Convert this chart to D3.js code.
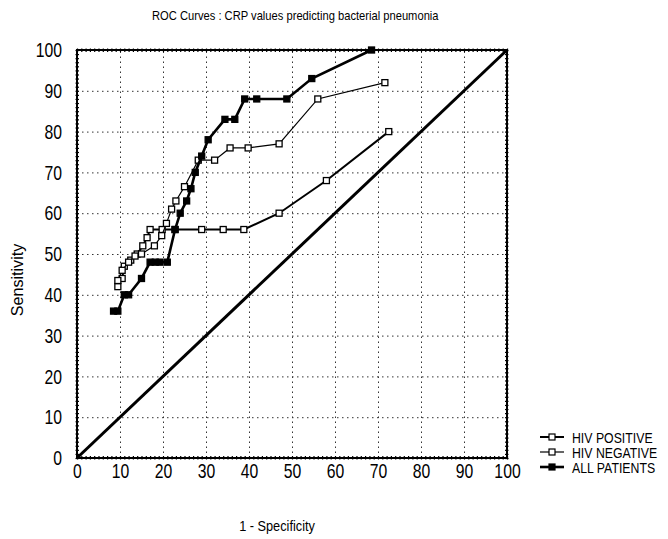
<!DOCTYPE html>
<html>
<head>
<meta charset="utf-8">
<script src="https://cdn.jsdelivr.net/npm/d3@7"></script>
<style>
  body { margin: 0; background: #fff; }
  svg { font-family: "Liberation Sans", Arial, sans-serif; }
  .grid line { stroke: #333; stroke-width: 1; stroke-dasharray: 1.5 3.5; }
  .grid .domain { display: none; }
  .minor .domain { display: none; }
  .minor line { stroke: #000; stroke-width: 1.2; }
  .lab .domain, .lab line { display: none; }
  .lab text { font-size: 21px; fill: #000; }
</style>
</head>
<body>
<svg id="chart"></svg>
<script>
// ROC curves, values: [1 - specificity, sensitivity]
const hivPositive = [[9.5,42],[10.5,44],[11,47],[12.5,48.5],[14,50],[15.3,52],[16.3,54],[17,56],[19.8,56],[22.8,56],[29,56],[34,56],[38.8,56],[47,60],[58,68],[72.5,80]];
const hivNegative = [[9.5,43.5],[10.5,46],[12,48],[13.5,49.5],[15,50],[18,52],[19.7,54.5],[20.8,57.5],[22,61],[23,63],[25,66.5],[28.2,73],[32,73],[35.6,76],[39.8,76],[47,77],[56,88],[71.6,92]];
const allPatients = [[8.5,36],[9.5,36],[11,40],[12,40],[15,44],[17,48],[18.2,48],[19.3,48],[21,48],[22.8,56],[24,60],[25.5,63],[26.5,66],[27.5,70],[29,74],[30.5,78],[34.4,83],[36.7,83],[39,88],[41.8,88],[48.8,88],[54.6,93],[68.5,100]];
const reference = [[0,0],[100,100]];
const tickValues = [0,10,20,30,40,50,60,70,80,90,100];
const seriesNames = ["HIV POSITIVE", "HIV NEGATIVE", "ALL PATIENTS"];

const width = 668, height = 539;
const margin = {top: 50, right: 161, bottom: 81, left: 77};
const w = width - margin.left - margin.right;
const h = height - margin.top - margin.bottom;
const sx = 0.75; // narrow lettering of the original

const svg = d3.select("#chart").attr("width", width).attr("height", height);
const chart = svg.append("g").attr("transform", `translate(${margin.left},${margin.top})`);

const x = d3.scaleLinear().domain([0, 100]).range([0, w]);
const y = d3.scaleLinear().domain([0, 100]).range([h, 0]);

// dotted grid
chart.append("g").attr("class", "grid")
  .attr("transform", `translate(0,${h})`)
  .call(d3.axisBottom(x).tickValues(tickValues.slice(1, -1)).tickSize(-h).tickFormat(""));
chart.append("g").attr("class", "grid")
  .call(d3.axisLeft(y).tickValues(tickValues.slice(1, -1)).tickSize(-w).tickFormat(""));

// frame with minor ticks on every side
const minor = d3.range(0, 101, 1);
chart.append("g").attr("class", "minor").attr("transform", `translate(0,${h + 1.5})`)
  .call(d3.axisTop(x).tickValues(minor).tickSize(3.5).tickFormat(""));
chart.append("g").attr("class", "minor").attr("transform", "translate(0,-1.5)")
  .call(d3.axisBottom(x).tickValues(minor).tickSize(3.5).tickFormat(""));
chart.append("g").attr("class", "minor").attr("transform", "translate(-1.5,0)")
  .call(d3.axisRight(y).tickValues(minor).tickSize(3.5).tickFormat(""));
chart.append("g").attr("class", "minor").attr("transform", `translate(${w + 1.5},0)`)
  .call(d3.axisLeft(y).tickValues(minor).tickSize(3.5).tickFormat(""));
chart.append("rect").attr("width", w).attr("height", h)
  .attr("fill", "none").attr("stroke", "#000").attr("stroke-width", 2);

// tick labels
chart.append("g").attr("class", "lab").attr("transform", `translate(0,${h})`)
  .call(d3.axisBottom(x).tickValues(tickValues).tickSize(0).tickPadding(5))
  .selectAll("text").attr("transform", `scale(${sx},1)`);
chart.append("g").attr("class", "lab")
  .call(d3.axisLeft(y).tickValues(tickValues).tickSize(0))
  .selectAll("text").attr("x", -15 / sx).attr("transform", `scale(${sx},1)`);

const line = d3.line().x(d => x(d[0])).y(d => y(d[1]));

// chance diagonal
chart.append("path").datum(reference).attr("d", line)
  .attr("fill", "none").attr("stroke", "#000").attr("stroke-width", 3);

const series = [
  {name: seriesNames[0], data: hivPositive, lw: 2, filled: false},
  {name: seriesNames[1], data: hivNegative, lw: 1.2, filled: false},
  {name: seriesNames[2], data: allPatients, lw: 2.6, filled: true}
];

const ms = 6;
series.forEach(s => {
  chart.append("path").datum(s.data).attr("d", line)
    .attr("fill", "none").attr("stroke", "#000").attr("stroke-width", s.lw);
  chart.selectAll(null).data(s.data).join("rect")
    .attr("x", d => x(d[0]) - ms / 2).attr("y", d => y(d[1]) - ms / 2)
    .attr("width", ms).attr("height", ms)
    .attr("fill", s.filled ? "#000" : "#fff")
    .attr("stroke", "#000").attr("stroke-width", 1.3);
});

// titles (narrowed to match the condensed face)
svg.append("text").attr("transform", "translate(152,20) scale(0.86,1)")
  .attr("font-size", 13).text("ROC Curves : CRP values predicting bacterial pneumonia");
svg.append("text").attr("transform", "translate(277,531) scale(0.85,1)").attr("text-anchor", "middle")
  .attr("font-size", 15).text("1 - Specificity");
svg.append("text").attr("transform", "translate(23,280) rotate(-90) scale(0.95,1)").attr("text-anchor", "middle")
  .attr("font-size", 17).text("Sensitivity");

// legend
const legend = svg.append("g").attr("transform", "translate(540,437)");
series.forEach((s, i) => {
  const g = legend.append("g").attr("transform", `translate(0,${i * 15})`);
  g.append("line").attr("x1", 0).attr("x2", 24).attr("stroke", "#000").attr("stroke-width", s.lw);
  g.append("rect").attr("x", 12 - 3).attr("y", -3).attr("width", 6).attr("height", 6)
    .attr("fill", s.filled ? "#000" : "#fff").attr("stroke", "#000").attr("stroke-width", 1.2);
  g.append("text").attr("transform", "translate(32,6) scale(0.82,1)")
    .attr("font-size", 15).text(s.name);
});
</script>
</body>
</html>
